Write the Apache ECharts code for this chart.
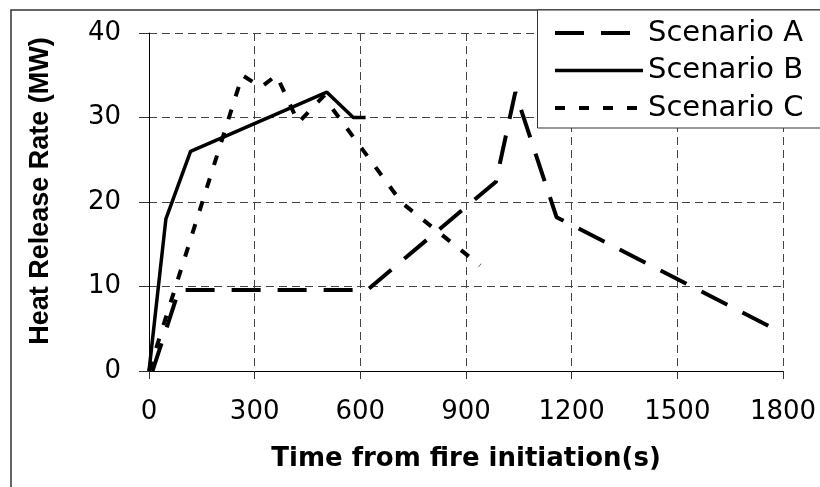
<!DOCTYPE html>
<html>
<head>
<meta charset="utf-8">
<script src="https://cdn.jsdelivr.net/npm/echarts@6/dist/echarts.min.js"></script>
<style>
html,body{margin:0;padding:0;background:#fff;}
#chart{width:820px;height:487px;}
</style>
</head>
<body>
<div id="chart"></div>
<script>
// Data (time in s, heat release rate in MW)
const seriesNames = ['Scenario A', 'Scenario B', 'Scenario C'];
const scenarioA = [[10, 0], [85, 9.6], [620, 9.6], [985, 22.4], [1040, 33], [1157, 18.2], [1775, 5]];
const scenarioB = [[0, 0], [48, 18], [118, 26], [505, 33], [580, 30], [615, 30]];
const scenarioC = [[0, 0], [265, 35], [318, 33.6], [362, 35], [424, 29.4], [495, 32.5], [718, 19.9], [940, 12.5]];
const xTicks = [0, 300, 600, 900, 1200, 1500, 1800];
const yTicks = [0, 10, 20, 30, 40];
const xTitle = 'Time from fire initiation(s)';
const yTitle = 'Heat Release Rate (MW)';

const styleA = {color: '#000', width: 4, type: [29, 17]};
const styleB = {color: '#000', width: 3.5, type: 'solid'};
const styleC = {color: '#000', width: 4, type: [10, 14]};

const chart = echarts.init(document.getElementById('chart'), null, {renderer: 'canvas'});
const gridLine = {show: true, lineStyle: {color: '#444', width: 1, type: [8, 5]}};
const lbl = {color: '#000', fontFamily: 'DejaVu Sans', fontSize: 26};
const hiddenSymbol = {color: 'rgba(0,0,0,0)', borderWidth: 0, opacity: 0};

chart.setOption({
  animation: false,
  backgroundColor: '#fff',
  grid: {left: 149, top: 33, right: 37, bottom: 116, containLabel: false},
  graphic: [
    {type: 'rect', z: -10, silent: true, shape: {x: 11, y: 10, width: 900, height: 600},
     style: {fill: null, stroke: '#333', lineWidth: 1.5}},
    {type: 'rect', z: 3, silent: true, shape: {x: 537.5, y: 10, width: 400, height: 118},
     style: {fill: '#fff', stroke: '#333', lineWidth: 1}},
    {type: 'text', x: 41, y: 191, rotation: Math.PI / 2, silent: true,
     style: {text: yTitle, fill: '#000', font: 'bold 27px "Liberation Sans"', align: 'center', verticalAlign: 'middle'}}
  ],
  legend: {
    orient: 'vertical',
    left: 537, top: 10, z: 5,
    data: [
      {name: seriesNames[0], lineStyle: styleA, itemStyle: hiddenSymbol},
      {name: seriesNames[1], lineStyle: styleB, itemStyle: hiddenSymbol},
      {name: seriesNames[2], lineStyle: styleC, itemStyle: hiddenSymbol}
    ],
    itemStyle: hiddenSymbol,
    itemWidth: 88, itemHeight: 14,
    itemGap: 7.5,
    padding: [8, 10, 5, 16],
    textStyle: {color: '#000', fontFamily: 'DejaVu Sans', fontSize: 29, lineHeight: 30, padding: [0, 0, 0, 0]}
  },
  xAxis: {
    type: 'value', min: 0, max: 1800, interval: 300,
    name: xTitle, nameLocation: 'middle', nameGap: 75,
    nameTextStyle: {color: '#000', fontFamily: 'DejaVu Sans', fontWeight: 'bold', fontSize: 26},
    axisLine: {show: true, lineStyle: {color: '#000', width: 1}},
    axisTick: {show: true, length: 8, lineStyle: {color: '#333'}},
    axisLabel: Object.assign({margin: 28, formatter: v => xTicks.includes(v) ? String(v) : ''}, lbl),
    splitLine: gridLine
  },
  yAxis: {
    type: 'value', min: 0, max: 40, interval: 10,
    axisLine: {show: true, lineStyle: {color: '#000', width: 1}},
    axisTick: {show: true, length: 10, lineStyle: {color: '#333'}},
    axisLabel: Object.assign({margin: 28, formatter: v => yTicks.includes(v) ? String(v) : ''}, lbl),
    splitLine: gridLine
  },
  series: [
    {name: seriesNames[0], type: 'line', data: scenarioA, symbol: 'none', showSymbol: false,
     color: '#000', lineStyle: styleA},
    {name: seriesNames[1], type: 'line', data: scenarioB, symbol: 'none', showSymbol: false,
     color: '#000', lineStyle: styleB},
    {name: seriesNames[2], type: 'line', data: scenarioC, symbol: 'none', showSymbol: false,
     color: '#000', lineStyle: styleC}
  ]
});
</script>
</body>
</html>
